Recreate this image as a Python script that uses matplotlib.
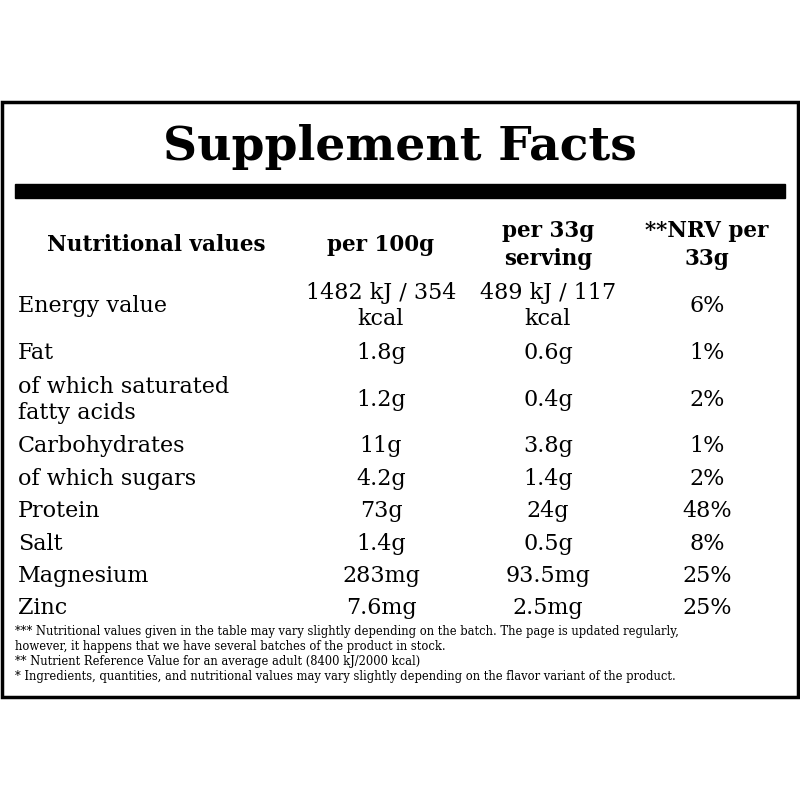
import matplotlib.pyplot as plt
from matplotlib.patches import Rectangle

# table data
nutrients = ["Energy value", "Fat", "of which saturated\nfatty acids", "Carbohydrates",
             "of which sugars", "Protein", "Salt", "Magnesium", "Zinc"]
per_100g = ["1482 kJ / 354\nkcal", "1.8g", "1.2g", "11g", "4.2g", "73g", "1.4g", "283mg", "7.6mg"]
per_33g = ["489 kJ / 117\nkcal", "0.6g", "0.4g", "3.8g", "1.4g", "24g", "0.5g", "93.5mg", "2.5mg"]
nrv_33g = ["6%", "1%", "2%", "1%", "2%", "48%", "8%", "25%", "25%"]
row_y = [306, 353, 400, 446, 479, 511, 544, 576, 608]

headers = ["Nutritional values", "per 100g", "per 33g\nserving", "**NRV per\n33g"]
footnotes = [
    "*** Nutritional values given in the table may vary slightly depending on the batch. The page is updated regularly,",
    "however, it happens that we have several batches of the product in stock.",
    "** Nutrient Reference Value for an average adult (8400 kJ/2000 kcal)",
    "* Ingredients, quantities, and nutritional values may vary slightly depending on the flavor variant of the product.",
]

col_x = [381, 548, 707]

fig = plt.figure(figsize=(8, 8), dpi=100)
ax = fig.add_axes([0, 0, 1, 1])
ax.set_xlim(0, 800)
ax.set_ylim(800, 0)
ax.axis("off")
plt.rcParams["font.family"] = "DejaVu Serif"

ax.add_patch(Rectangle((2, 102), 796, 595, fill=False, lw=2.5, ec="black"))
ax.add_patch(Rectangle((15, 184), 770, 14, color="black"))

ax.text(400, 147, "Supplement Facts", ha="center", va="center", fontsize=34, fontweight="bold")

# header row
ax.text(156, 245, headers[0], ha="center", va="center", fontsize=15.5, fontweight="bold")
for x, h in zip(col_x, headers[1:]):
    ax.text(x, 245, h, ha="center", va="center", fontsize=15.5, fontweight="bold", linespacing=1.3)

for i in range(len(nutrients)):
    y = row_y[i]
    ax.text(18, y, nutrients[i], ha="left", va="center", fontsize=16, linespacing=1.2)
    ax.text(col_x[0], y, per_100g[i], ha="center", va="center", fontsize=16, linespacing=1.2)
    ax.text(col_x[1], y, per_33g[i], ha="center", va="center", fontsize=16, linespacing=1.2)
    ax.text(col_x[2], y, nrv_33g[i], ha="center", va="center", fontsize=16)

for j, line in enumerate(footnotes):
    ax.text(15, 632 + j * 14.7, line, ha="left", va="center", fontsize=8.3)

fig.savefig("out.png", dpi=100)
